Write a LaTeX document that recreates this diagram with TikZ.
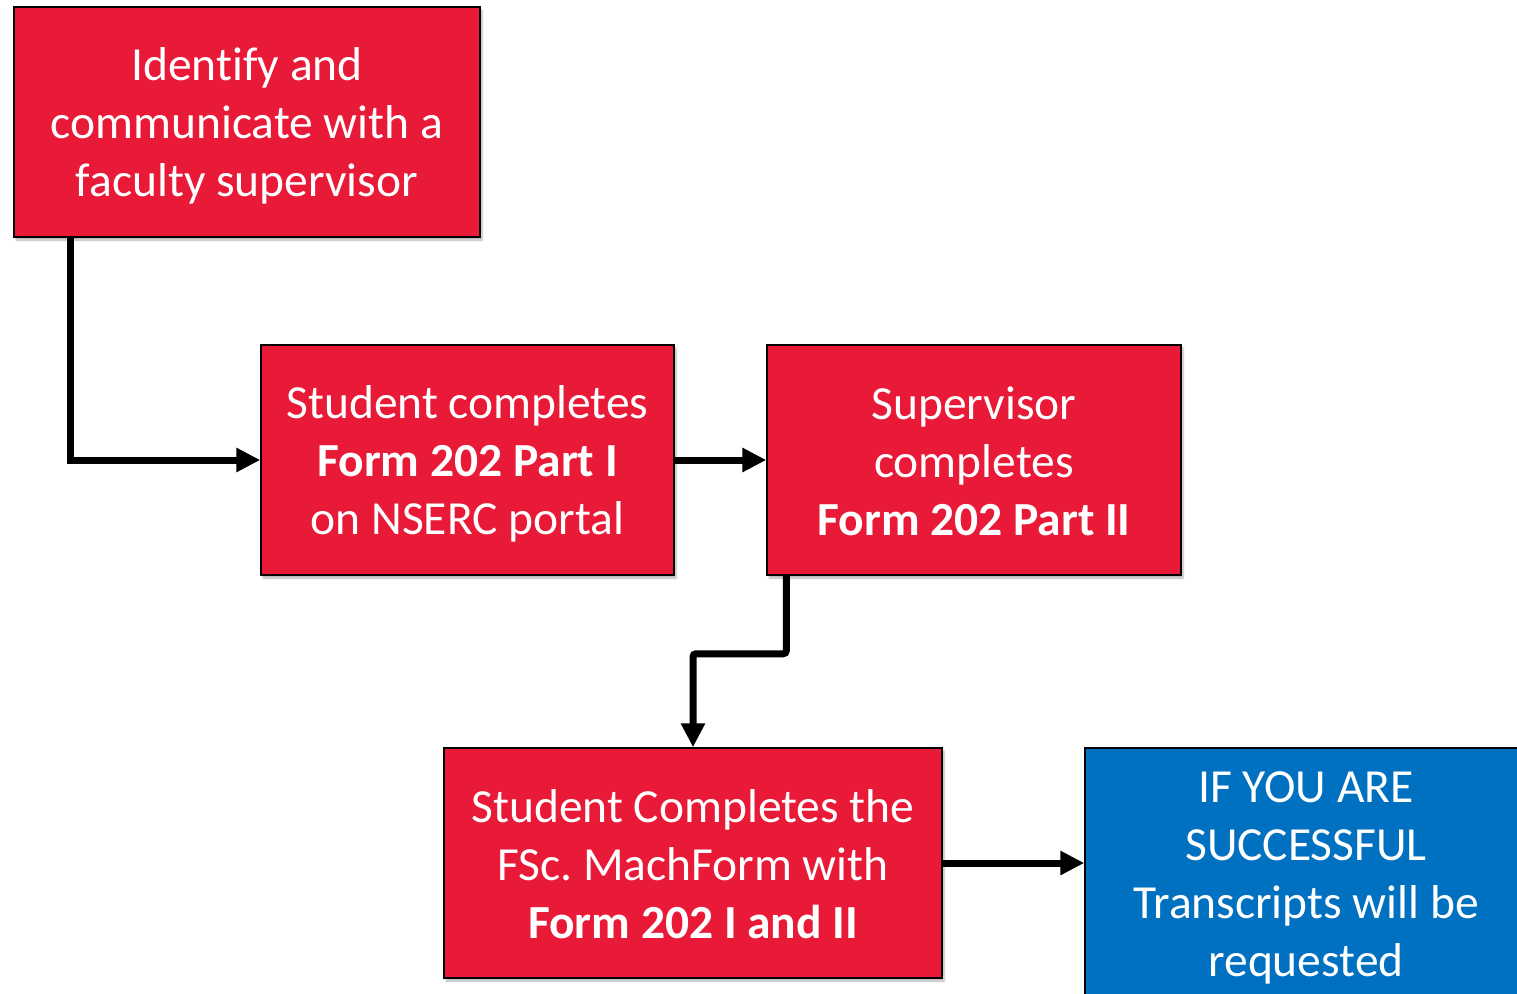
\documentclass[tikz,border=0pt]{standalone}
\usepackage{fontspec}
\setmainfont[Ligatures={NoCommon}]{Carlito}
\usetikzlibrary{arrows.meta,shadows.blur}
\definecolor{boxred}{RGB}{232,26,56}
\definecolor{boxblue}{RGB}{0,112,192}
\frenchspacing
\tikzset{
  stepbox/.style={draw=black, line width=1.5pt, fill=boxred, inner sep=0pt, minimum height=230pt,
    blur shadow={shadow blur steps=6, shadow xshift=2pt, shadow yshift=-3pt, shadow opacity=30}},
  bluebox/.style={stepbox, fill=boxblue},
  boxtext/.style={text=white, align=center, inner sep=0pt, font=\fontsize{47.5}{58}\selectfont},
  conn/.style={draw=black, line width=7pt, -{Triangle[length=24pt,width=23pt]}}
}
\begin{document}
\begin{tikzpicture}[x=1pt,y=-1pt]
\useasboundingbox (0,0) rectangle (1517,993);
\node[stepbox, minimum width=466pt] (A) at (247,122) {};
\node[stepbox, minimum width=413pt] (B) at (467.5,460) {};
\node[stepbox, minimum width=414pt] (C) at (974,460) {};
\node[stepbox, minimum width=498pt] (D) at (693,863) {};
\node[bluebox, minimum width=442pt, minimum height=252pt] (E) at (1306,874) {};
\node[boxtext] (At) at ([yshift=-4pt]A.center) {Identify and\\communicate with a\\faculty supervisor};
\node[boxtext] (Bt) at ([yshift=-4pt]B.center) {Student completes\\\textbf{Form 202 Part I}\\on NSERC portal};
\node[boxtext] (Ct) at ([yshift=-1pt]C.center) {Supervisor\\completes\\\textbf{Form 202 Part II}};
\node[boxtext] (Dt) at ([yshift=-1pt]D.center) {Student Completes the\\FSc. MachForm with\\\textbf{Form 202 I and II}};
\node[boxtext] (Et) at ([yshift=-4pt]E.center) {IF YOU ARE\\SUCCESSFUL\\Transcripts will be\\requested};
\draw[conn] ([xshift=57pt]A.south west) |- (B.west);
\draw[conn] (B.east) -- (C.west);
\draw[conn, rounded corners=3pt] ([xshift=20pt]C.south west) -- ++(0,78) -| (D.north);
\draw[conn] (D.east) -- (D.east -| E.west);
\end{tikzpicture}
\end{document}
